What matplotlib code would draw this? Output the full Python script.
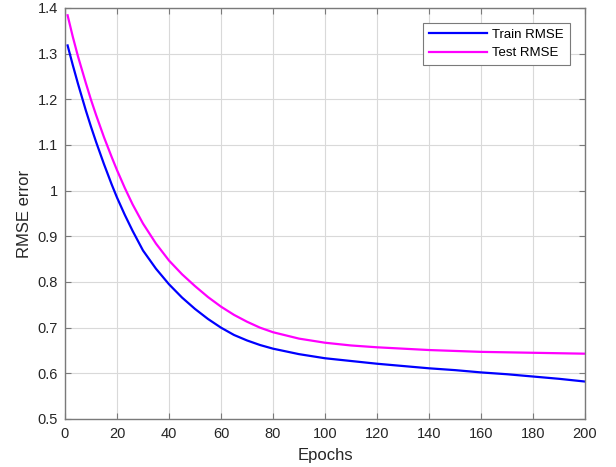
import numpy as np
import matplotlib.pyplot as plt
from matplotlib.ticker import FuncFormatter

plt.rcParams['font.family'] = ['Liberation Sans', 'DejaVu Sans']

epochs = [1, 3, 5, 8, 10, 12, 15, 18, 20, 23, 26, 30, 35, 40, 45, 50, 55, 60,
          65, 70, 75, 80, 90, 100, 110, 120, 130, 140, 150, 160, 170, 180, 190, 200]

train_rmse = [1.318, 1.275, 1.234, 1.176, 1.140, 1.106, 1.058, 1.013, 0.985, 0.947,
              0.912, 0.869, 0.829, 0.795, 0.766, 0.741, 0.719, 0.700,
              0.684, 0.672, 0.662, 0.654, 0.642, 0.633, 0.627, 0.621, 0.616,
              0.611, 0.607, 0.602, 0.598, 0.593, 0.588, 0.582]

test_rmse = [1.384, 1.337, 1.294, 1.236, 1.199, 1.165, 1.117, 1.073, 1.045, 1.006,
             0.970, 0.928, 0.884, 0.847, 0.817, 0.791, 0.767, 0.746,
             0.728, 0.713, 0.700, 0.690, 0.676, 0.667, 0.661, 0.657, 0.654,
             0.651, 0.649, 0.647, 0.646, 0.645, 0.644, 0.643]

x_ticks = np.arange(0, 201, 20)
y_ticks = np.arange(0.5, 1.41, 0.1)

axis_gray = '#7a7a7a'
text_gray = '#262626'

fig = plt.figure(figsize=(6.16, 4.67), dpi=100)
ax = fig.add_axes([0.1055, 0.1028, 0.8442, 0.8801])

ax.plot(epochs, train_rmse, color=(0, 0, 1), lw=1.6, label='Train RMSE')
ax.plot(epochs, test_rmse, color=(1, 0, 1), lw=1.6, label='Test RMSE')

ax.set_xlim(0, 200)
ax.set_ylim(0.5, 1.4)
ax.set_xticks(x_ticks)
ax.set_yticks(y_ticks)
ax.yaxis.set_major_formatter(FuncFormatter(lambda v, p: '%g' % round(v, 1)))

ax.grid(True, color='#d9d9d9', lw=0.8)
ax.set_axisbelow(True)

for s in ax.spines.values():
    s.set_color(axis_gray)
    s.set_linewidth(1.0)
ax.tick_params(direction='in', top=True, right=True, length=4, width=0.8,
               color=axis_gray, labelcolor=text_gray, labelsize=10.5)
ax.tick_params(axis='x', pad=6)
ax.tick_params(axis='y', pad=5)

ax.set_xlabel('Epochs', fontsize=12, color=text_gray, labelpad=5)
ax.set_ylabel('RMSE error', fontsize=12, color=text_gray, labelpad=4)

leg = ax.legend(loc='upper right', bbox_to_anchor=(0.971, 0.964), fontsize=9.5,
                fancybox=False, framealpha=1, edgecolor=axis_gray,
                handlelength=4.4, borderpad=0.45, labelspacing=0.45,
                handletextpad=0.4, borderaxespad=0)
leg.get_frame().set_linewidth(0.8)

fig.savefig('out.png', dpi=100)
